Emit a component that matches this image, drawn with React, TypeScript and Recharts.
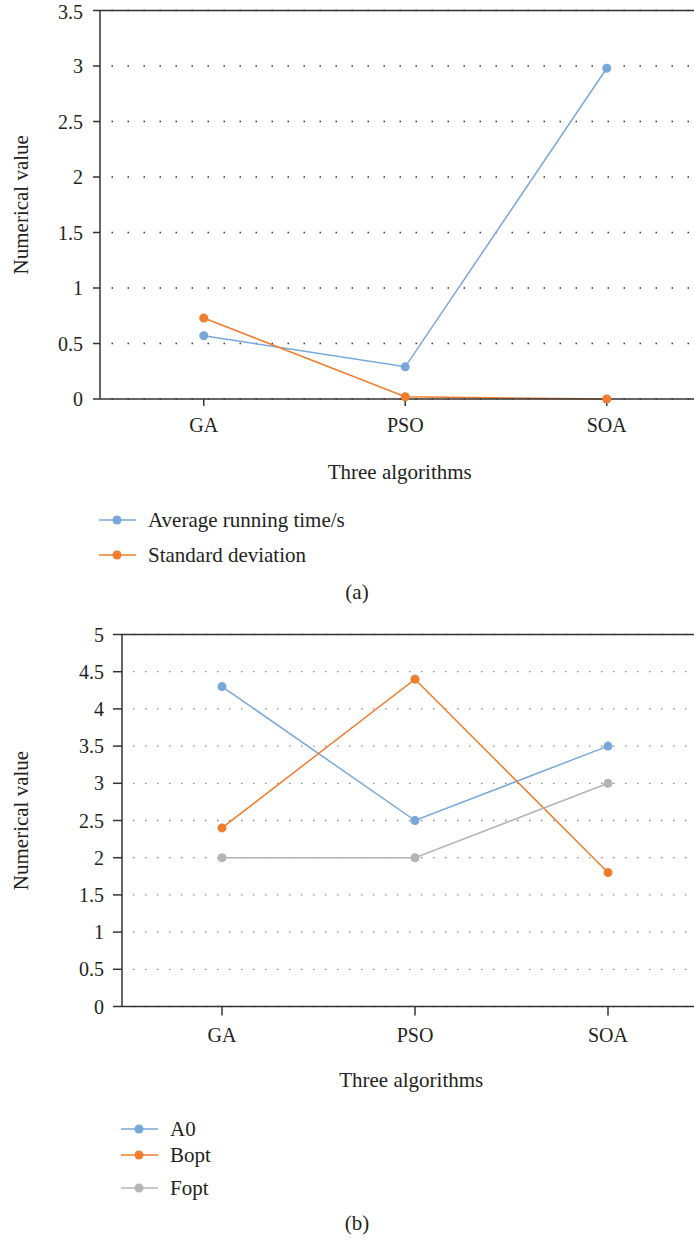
import { CartesianGrid, Line, LineChart, ReferenceLine, XAxis, YAxis } from "recharts";

const algorithms = ["GA", "PSO", "SOA"];
const avgRunningTime = [0.57, 0.29, 2.98];
const standardDeviation = [0.73, 0.02, 0.0];
const a0 = [4.3, 2.5, 3.5];
const bopt = [2.4, 4.4, 1.8];
const fopt = [2, 2, 3];
const ticksA = [0, 0.5, 1, 1.5, 2, 2.5, 3, 3.5];
const ticksB = [0, 0.5, 1, 1.5, 2, 2.5, 3, 3.5, 4, 4.5, 5];

const BLUE = "#78a7db";
const ORANGE = "#ef7d2d";
const GRAY = "#b4b4b4";
const INK = "#231f20";
const AXIS = "#333";
const FONT = "Liberation Serif, Tinos, Times New Roman, DejaVu Serif, serif";
const LABEL_SIZE = 21;

const dataA = algorithms.map((name, i) => ({
  name,
  avg: avgRunningTime[i],
  std: standardDeviation[i]
}));

const dataB = algorithms.map((name, i) => ({
  name,
  a0: a0[i],
  bopt: bopt[i],
  fopt: fopt[i]
}));

function LegendItem({ x, y, color, label }: { x: number; y: number; color: string; label: string }) {
  return (
    <div style={{ position: "absolute", left: x, top: y - 12, height: 24, display: "flex", alignItems: "center" }}>
      <svg width={37} height={24}>
        <line x1={0} y1={12} x2={37} y2={12} stroke={color} strokeWidth={1.5} />
        <circle cx={18} cy={12} r={4.5} fill={color} />
      </svg>
      <span style={{ marginLeft: 12, fontSize: LABEL_SIZE, color: INK, fontFamily: FONT, whiteSpace: "nowrap" }}>{label}</span>
    </div>
  );
}

const tick = { fill: INK, fontSize: 20, fontFamily: FONT };

export default function App() {
  return (
    <div style={{ position: "absolute", left: 0, top: 0, width: 694, height: 1241, background: "#fff", overflow: "hidden", fontFamily: FONT }}>
      <div style={{ position: "absolute", left: 0, top: 0 }}>
        <LineChart width={694} height={610} data={dataA} margin={{ top: 10.5, right: -13.5, bottom: 0, left: 0 }}>
          <CartesianGrid
            horizontal
            vertical={false}
            stroke={AXIS}
            strokeWidth={1.3}
            strokeDasharray="1.5 14.5"
            strokeDashoffset={4.5}
          />
          <XAxis
            dataKey="name"
            scale="band"
            height={211}
            padding={{ left: 3, right: 0 }}
            tick={tick}
            tickSize={7}
            tickMargin={11.5}
            axisLine={{ stroke: AXIS, strokeWidth: 1.5 }}
            tickLine={{ stroke: AXIS, strokeWidth: 1.5 }}
            label={{ value: "Three algorithms", position: "insideTop", offset: 65, dx: -4, fill: INK, fontSize: LABEL_SIZE, fontFamily: FONT }}
          />
          <YAxis
            width={100}
            domain={[0, 3.5]}
            ticks={ticksA}
            tick={tick}
            tickSize={7}
            tickMargin={10}
            axisLine={{ stroke: AXIS, strokeWidth: 1.5 }}
            tickLine={{ stroke: AXIS, strokeWidth: 1.5 }}
            label={{ value: "Numerical value", angle: -90, position: "insideLeft", offset: 21, style: { textAnchor: "middle" }, fill: INK, fontSize: LABEL_SIZE, fontFamily: FONT }}
          />
          <ReferenceLine y={3.5} stroke={AXIS} strokeWidth={1.5} />
          <Line dataKey="avg" stroke={BLUE} strokeWidth={1.5} dot={{ r: 4.5, fill: BLUE, stroke: "none" }} isAnimationActive={false} />
          <Line dataKey="std" stroke={ORANGE} strokeWidth={1.5} dot={{ r: 4.5, fill: ORANGE, stroke: "none" }} isAnimationActive={false} />
        </LineChart>
      </div>
      <LegendItem x={99} y={520} color={BLUE} label="Average running time/s" />
      <LegendItem x={99} y={555} color={ORANGE} label="Standard deviation" />
      <div style={{ position: "absolute", left: 0, width: 714, top: 580, textAlign: "center", fontSize: LABEL_SIZE, fontFamily: FONT, color: INK }}>(a)</div>

      <div style={{ position: "absolute", left: 0, top: 610 }}>
        <LineChart width={694} height={631} data={dataB} margin={{ top: 24.5, right: -10.5, bottom: 0, left: 0 }}>
          <CartesianGrid
            horizontal
            vertical={false}
            stroke="#8a8a8a"
            strokeWidth={1.3}
            strokeDasharray="1.5 10.5"
            strokeDashoffset={1}
          />
          <XAxis
            dataKey="name"
            scale="band"
            height={234.5}
            padding={{ left: 3.5, right: 0 }}
            tick={tick}
            tickSize={9}
            tickMargin={12}
            axisLine={{ stroke: AXIS, strokeWidth: 1.5 }}
            tickLine={{ stroke: AXIS, strokeWidth: 1.5 }}
            label={{ value: "Three algorithms", position: "insideTop", offset: 65.5, dx: -2, fill: INK, fontSize: LABEL_SIZE, fontFamily: FONT }}
          />
          <YAxis
            width={122}
            domain={[0, 5]}
            ticks={ticksB}
            tick={tick}
            tickSize={9}
            tickMargin={9}
            axisLine={{ stroke: AXIS, strokeWidth: 1.5 }}
            tickLine={{ stroke: AXIS, strokeWidth: 1.5 }}
            label={{ value: "Numerical value", angle: -90, position: "insideLeft", offset: 21, style: { textAnchor: "middle" }, fill: INK, fontSize: LABEL_SIZE, fontFamily: FONT }}
          />
          <ReferenceLine y={5} stroke={AXIS} strokeWidth={1.5} />
          <Line dataKey="a0" stroke={BLUE} strokeWidth={1.5} dot={{ r: 4.5, fill: BLUE, stroke: "none" }} isAnimationActive={false} />
          <Line dataKey="bopt" stroke={ORANGE} strokeWidth={1.5} dot={{ r: 4.5, fill: ORANGE, stroke: "none" }} isAnimationActive={false} />
          <Line dataKey="fopt" stroke={GRAY} strokeWidth={1.5} dot={{ r: 4.5, fill: GRAY, stroke: "none" }} isAnimationActive={false} />
        </LineChart>
      </div>
      <LegendItem x={121} y={1129} color={BLUE} label="A0" />
      <LegendItem x={121} y={1155} color={ORANGE} label="Bopt" />
      <LegendItem x={121} y={1188} color={GRAY} label="Fopt" />
      <div style={{ position: "absolute", left: 0, width: 714, top: 1211, textAlign: "center", fontSize: LABEL_SIZE, fontFamily: FONT, color: INK }}>(b)</div>
    </div>
  );
}
